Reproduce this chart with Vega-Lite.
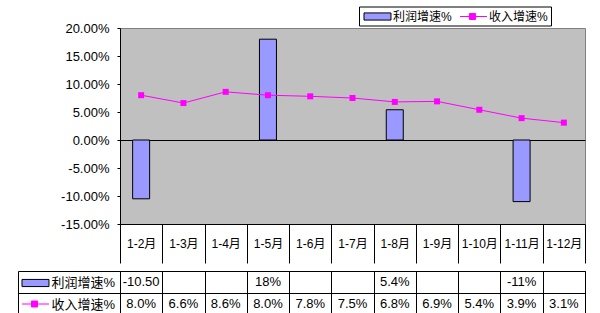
{
  "$schema": "https://vega.github.io/schema/vega-lite/v6.json",
  "padding": {"left": 17, "top": 5, "right": 5, "bottom": 0},
  "background": "white",
  "spacing": 0,
  "config": {
    "font": "Liberation Sans, Noto Sans CJK SC",
    "view": {"stroke": null},
    "axis": {"labelOverlap": false}
  },
  "data": {
    "values": [
      {"month": "1-2月", "series": "利润增速%", "value": -10.5, "text": "-10.50"},
      {"month": "1-3月", "series": "利润增速%", "value": null, "text": ""},
      {"month": "1-4月", "series": "利润增速%", "value": null, "text": ""},
      {"month": "1-5月", "series": "利润增速%", "value": 18, "text": "18%"},
      {"month": "1-6月", "series": "利润增速%", "value": null, "text": ""},
      {"month": "1-7月", "series": "利润增速%", "value": null, "text": ""},
      {"month": "1-8月", "series": "利润增速%", "value": 5.4, "text": "5.4%"},
      {"month": "1-9月", "series": "利润增速%", "value": null, "text": ""},
      {"month": "1-10月", "series": "利润增速%", "value": null, "text": ""},
      {"month": "1-11月", "series": "利润增速%", "value": -11, "text": "-11%"},
      {"month": "1-12月", "series": "利润增速%", "value": null, "text": ""},
      {"month": "1-2月", "series": "收入增速%", "value": 8.0, "text": "8.0%"},
      {"month": "1-3月", "series": "收入增速%", "value": 6.6, "text": "6.6%"},
      {"month": "1-4月", "series": "收入增速%", "value": 8.6, "text": "8.6%"},
      {"month": "1-5月", "series": "收入增速%", "value": 8.0, "text": "8.0%"},
      {"month": "1-6月", "series": "收入增速%", "value": 7.8, "text": "7.8%"},
      {"month": "1-7月", "series": "收入增速%", "value": 7.5, "text": "7.5%"},
      {"month": "1-8月", "series": "收入增速%", "value": 6.8, "text": "6.8%"},
      {"month": "1-9月", "series": "收入增速%", "value": 6.9, "text": "6.9%"},
      {"month": "1-10月", "series": "收入增速%", "value": 5.4, "text": "5.4%"},
      {"month": "1-11月", "series": "收入增速%", "value": 3.9, "text": "3.9%"},
      {"month": "1-12月", "series": "收入增速%", "value": 3.1, "text": "3.1%"}
    ]
  },
  "resolve": {
    "scale": {"fill": "independent", "stroke": "independent", "shape": "independent"},
    "legend": {"fill": "independent", "stroke": "independent", "shape": "independent"}
  },
  "vconcat": [
    {
      "width": 465,
      "height": 196,
      "view": {"fill": "#C0C0C0", "stroke": "#808080"},
      "encoding": {
        "x": {
          "field": "month", "type": "ordinal",
          "scale": {"type": "band", "domain": ["1-2月", "1-3月", "1-4月", "1-5月", "1-6月", "1-7月", "1-8月", "1-9月", "1-10月", "1-11月", "1-12月"], "paddingInner": 0, "paddingOuter": 0},
          "axis": {
            "title": null, "labelAngle": 0, "tickBand": "extent", "tickSize": 39,
            "tickColor": "black", "domainColor": "black", "labelPadding": -20,
            "labelBaseline": "middle", "labelFontSize": 12, "labelColor": "black", "grid": false,
            "labelOverlap": false
          }
        },
        "y": {
          "field": "value", "type": "quantitative",
          "scale": {"domain": [-15, 20], "nice": false},
          "axis": {
            "title": null, "values": [-15, -10, -5, 0, 5, 10, 15, 20],
            "labelExpr": "(datum.value < 0 ? '-' : '') + format(abs(datum.value), '.2f') + '%'",
            "grid": true, "gridColor": "black",
            "gridOpacity": {"condition": {"test": "datum.value === 0", "value": 1}, "value": 0},
            "tickSize": 3, "tickColor": "black", "domainColor": "black",
            "labelPadding": 8, "labelFontSize": 13, "labelColor": "black", "labelOverlap": false
          }
        }
      },
      "layer": [
        {
          "transform": [{"filter": "datum.series === '利润增速%'"}],
          "mark": {"type": "bar", "fill": "#9999FF", "stroke": "black", "strokeWidth": 1, "size": 17}
        },
        {
          "transform": [{"filter": "datum.series === '收入增速%'"}],
          "mark": {"type": "line", "color": "#FF00FF", "strokeWidth": 1, "point": {"shape": "square", "size": 36, "filled": true, "color": "#FF00FF"}}
        },
        {
          "mark": {"type": "point", "filled": true, "opacity": 0},
          "encoding": {
            "fill": {
              "field": "series", "type": "nominal",
              "scale": {"domain": ["利润增速%", "收入增速%"], "range": ["#9999FF", "#FF00FF"]},
              "legend": {
                "orient": "none", "legendX": 239, "legendY": -21.5, "direction": "horizontal",
                "title": null, "strokeColor": "black", "fillColor": "white", "padding": 3,
                "labelFontSize": 12, "labelColor": "black", "symbolSize": 169, "symbolOpacity": 1,
                "symbolStrokeWidth": 1, "columnPadding": 5, "labelOffset": 17
              }
            },
            "stroke": {
              "field": "series", "type": "nominal",
              "scale": {"domain": ["利润增速%", "收入增速%"], "range": ["black", "#FF00FF"]},
              "legend": {
                "orient": "none", "legendX": 239, "legendY": -21.5, "direction": "horizontal",
                "title": null, "strokeColor": "black", "fillColor": "white", "padding": 3,
                "labelFontSize": 12, "labelColor": "black", "symbolSize": 169, "symbolOpacity": 1,
                "symbolStrokeWidth": 1, "columnPadding": 5, "labelOffset": 17
              }
            },
            "shape": {
              "field": "series", "type": "nominal",
              "scale": {"domain": ["利润增速%", "收入增速%"], "range": ["M-0.77,-0.55H3.38V0.55H-0.77Z", "M-0.77,0H3.38M0.69,-0.46H1.61V0.46H0.69Z"]},
              "legend": {
                "orient": "none", "legendX": 239, "legendY": -21.5, "direction": "horizontal",
                "title": null, "strokeColor": "black", "fillColor": "white", "padding": 3,
                "labelFontSize": 12, "labelColor": "black", "symbolSize": 169, "symbolOpacity": 1,
                "symbolStrokeWidth": 1, "columnPadding": 5, "labelOffset": 17
              }
            }
          }
        }
      ]
    },
    {
      "width": 465,
      "height": 44,
      "view": {"fill": "white", "stroke": "black"},
      "layer": [
        {
          "mark": {"type": "text", "fontSize": 13, "color": "black"},
          "encoding": {
            "x": {
              "field": "month", "type": "ordinal",
              "scale": {"type": "band", "domain": ["1-2月", "1-3月", "1-4月", "1-5月", "1-6月", "1-7月", "1-8月", "1-9月", "1-10月", "1-11月", "1-12月"], "paddingInner": 0, "paddingOuter": 0},
              "axis": {
                "title": null, "orient": "top", "grid": true, "tickBand": "extent", "gridColor": "black",
                "gridOpacity": 1, "labels": false, "ticks": false, "domain": false
              }
            },
            "y": {
              "field": "series", "type": "nominal",
              "scale": {"type": "band", "domain": ["利润增速%", "收入增速%"], "paddingInner": 0, "paddingOuter": 0},
              "axis": {
                "title": null, "orient": "left", "offset": 102, "tickSize": -102, "tickBand": "extent",
                "tickColor": "black", "domainColor": "black", "grid": true, "gridColor": "black", "gridOpacity": 1,
                "labelAlign": "left", "labelPadding": 69, "labelFontSize": 13, "labelColor": "black"
              }
            },
            "text": {"field": "text"}
          }
        },
        {
          "mark": {"type": "point", "filled": true, "opacity": 0},
          "encoding": {
            "x": {"field": "month", "type": "ordinal"},
            "y": {"field": "series", "type": "nominal"},
            "fill": {
              "field": "series", "type": "nominal",
              "scale": {"domain": ["利润增速%", "收入增速%"], "range": ["#9999FF", "#FF00FF"]},
              "legend": {
                "orient": "none", "legendX": -100, "legendY": 5, "direction": "vertical",
                "title": null, "padding": 0, "symbolSize": 169, "rowPadding": 8, "symbolOpacity": 1,
                "symbolStrokeWidth": 1, "labelExpr": "''"
              }
            },
            "stroke": {
              "field": "series", "type": "nominal",
              "scale": {"domain": ["利润增速%", "收入增速%"], "range": ["black", "#FF00FF"]},
              "legend": {
                "orient": "none", "legendX": -100, "legendY": 5, "direction": "vertical",
                "title": null, "padding": 0, "symbolSize": 169, "rowPadding": 8, "symbolOpacity": 1,
                "symbolStrokeWidth": 1, "labelExpr": "''"
              }
            },
            "shape": {
              "field": "series", "type": "nominal",
              "scale": {"domain": ["利润增速%", "收入增速%"], "range": ["M-0.77,-0.55H3.38V0.55H-0.77Z", "M-0.77,0H3.38M0.69,-0.46H1.61V0.46H0.69Z"]},
              "legend": {
                "orient": "none", "legendX": -100, "legendY": 5, "direction": "vertical",
                "title": null, "padding": 0, "symbolSize": 169, "rowPadding": 8, "symbolOpacity": 1,
                "symbolStrokeWidth": 1, "labelExpr": "''"
              }
            }
          }
        }
      ]
    }
  ]
}
